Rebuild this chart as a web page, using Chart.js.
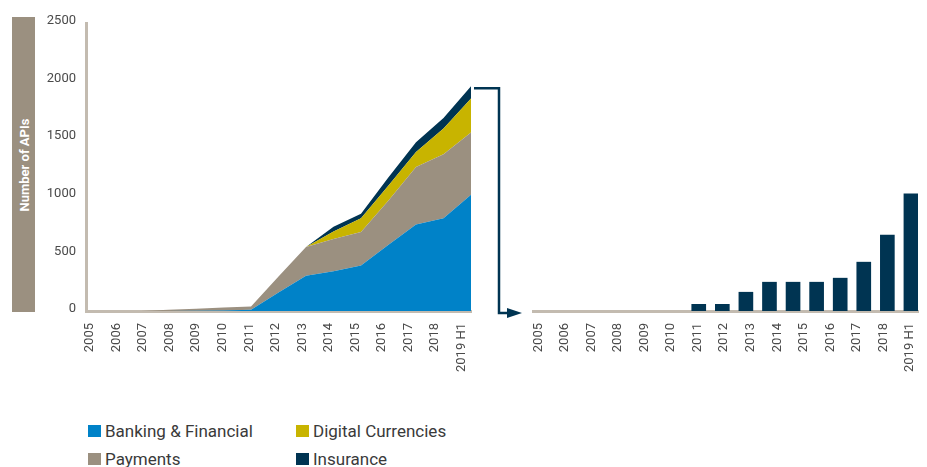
<!DOCTYPE html>
<html>
<head>
<meta charset="utf-8">
<script src="https://cdn.jsdelivr.net/npm/chart.js@4.4.1/dist/chart.umd.min.js"></script>
<style>
  body {
    margin: 0;
    width: 927px;
    height: 467px;
    background: #fff;
    overflow: hidden;
    position: relative;
    font-family: Roboto, sans-serif;
  }
  canvas { position: absolute; top: 0; }
  #leftChart { left: 0; }
  #rightChart { left: 500px; }
  #yTitle {
    position: absolute;
    left: 12px;
    top: 17px;
    width: 23px;
    height: 295px;
    background: #9b9080;
  }
  #yTitle span {
    position: absolute;
    left: 50%;
    top: 50%;
    transform: translate(-50%, -50%) rotate(-90deg);
    color: #fff;
    font-weight: bold;
    font-size: 13px;
    white-space: nowrap;
  }
  .legend {
    position: absolute;
    display: flex;
    align-items: center;
    height: 20px;
    font-size: 17px;
    line-height: 20px;
    color: #3a3a3a;
    white-space: nowrap;
  }
  .legend i {
    display: inline-block;
    width: 13px;
    height: 12px;
    margin-right: 4px;
  }
</style>
</head>
<body>
<div id="yTitle"><span>Number of APIs</span></div>
<canvas id="leftChart" width="530" height="400"></canvas>
<!-- wider than the window so the last rotated label can't shrink the plot -->
<canvas id="rightChart" width="467" height="400"></canvas>

<div class="legend" style="left:88px; top:421px;"><i style="background:#0082c8"></i>Banking &amp; Financial</div>
<div class="legend" style="left:296px; top:421px;"><i style="background:#c8b400"></i>Digital Currencies</div>
<div class="legend" style="left:88px; top:449px;"><i style="background:#9b9080"></i>Payments</div>
<div class="legend" style="left:296px; top:449px;"><i style="background:#003452"></i>Insurance</div>

<script>
// categories
const years = [
  "2005", "2006", "2007", "2008", "2009", "2010", "2011", "2012",
  "2013", "2014", "2015", "2016", "2017", "2018", "2019 H1",
];

// stacked area series (left chart)
const banking = [0, 0, 0, 0, 2, 5, 10, 160, 305, 345, 395, 575, 750, 805, 1010];
const payments = [0, 0, 0, 10, 18, 25, 30, 140, 250, 280, 290, 385, 500, 555, 540];
const digital = [0, 0, 0, 0, 0, 0, 0, 0, 0, 65, 120, 130, 130, 225, 295];
const insurance = [0, 0, 0, 0, 0, 0, 0, 0, 0, 41, 40, 70, 85, 90, 105];

// bars (right chart)
const rightBars = [58, 58, 163, 250, 250, 250, 285, 424, 659, 1017];

// y ticks
const yMax = 2500;
const yStep = 500;

const BLUE = "#0082c8";
const GREY = "#9b9080";
const YELLOW = "#c8b400";
const NAVY = "#003452";
const AXIS = "#c3bbb0";
const TICK = "#4a4a4a";

Chart.defaults.font.family = "Roboto, sans-serif";
Chart.defaults.font.size = 13;
Chart.defaults.color = TICK;

// year labels axis, shared by both charts
function yearAxis(min, max) {
  return {
    type: "linear",
    position: "bottom",
    offset: false,
    min: min,
    max: max,
    afterBuildTicks: (s) => {
      s.ticks = years.map((y, i) => ({ value: i }));
    },
    afterFit: (s) => {
      s.height = 89;
    },
    grid: { display: false, drawTicks: false, offset: false },
    border: { color: AXIS, width: 3 },
    ticks: {
      minRotation: 90,
      maxRotation: 90,
      autoSkip: false,
      padding: 12,
      callback: (v) => years[v],
    },
  };
}

// bracket arrow from the last stack to the bar chart
const bracketPlugin = {
  id: "bracket",
  afterDatasetsDraw(chart) {
    const { ctx, chartArea, scales } = chart;
    const last = years.length - 1;
    const total = banking[last] + payments[last] + digital[last] + insurance[last];
    const yTop = scales.y.getPixelForValue(total) + 2;
    const yBase = scales.y.getPixelForValue(0) + 2;
    const x0 = chartArea.right + 3;
    const xCorner = chartArea.right + 28;
    const xEnd = chartArea.right + 36;

    ctx.save();
    ctx.strokeStyle = NAVY;
    ctx.lineWidth = 2.5;
    ctx.beginPath();
    ctx.moveTo(x0, yTop);
    ctx.lineTo(xCorner, yTop);
    ctx.lineTo(xCorner, yBase);
    ctx.lineTo(xEnd, yBase);
    ctx.stroke();
    ctx.fillStyle = NAVY;
    ctx.beginPath();
    ctx.moveTo(xEnd, yBase - 5);
    ctx.lineTo(xEnd + 15, yBase);
    ctx.lineTo(xEnd, yBase + 5);
    ctx.closePath();
    ctx.fill();
    ctx.restore();
  },
};

function areaSet(label, data, color, fill) {
  return {
    label: label,
    data: data,
    xAxisID: "x",
    backgroundColor: color,
    borderColor: color,
    borderWidth: 0,
    pointRadius: 0,
    tension: 0,
    fill: fill,
  };
}

// Left chart: stacked areas
function createLeftChart() {
  const ctx = document.getElementById("leftChart").getContext("2d");
  new Chart(ctx, {
    type: "line",
    data: {
      labels: years,
      datasets: [
        areaSet("Banking & Financial", banking, BLUE, "origin"),
        areaSet("Payments", payments, GREY, "-1"),
        areaSet("Digital Currencies", digital, YELLOW, "-1"),
        areaSet("Insurance", insurance, NAVY, "-1"),
      ],
    },
    options: {
      responsive: false,
      animation: false,
      layout: { padding: { left: 0, right: 59, top: 23, bottom: 0 } },
      plugins: { legend: { display: false }, tooltip: { enabled: false } },
      scales: {
        x: { type: "category", display: false },
        xl: yearAxis(-0.15, 14.35),
        y: {
          stacked: true,
          min: 0,
          max: yMax,
          afterFit: (s) => {
            s.width = 86;
          },
          grid: { display: false, drawTicks: false },
          border: { color: AXIS, width: 3 },
          ticks: {
            stepSize: yStep,
            padding: 10,
            labelOffset: -2,
            callback: (v) => String(v),
          },
        },
      },
    },
    plugins: [bracketPlugin],
  });
}

// Right chart: bars
function createRightChart() {
  const ctx = document.getElementById("rightChart").getContext("2d");
  new Chart(ctx, {
    type: "bar",
    data: {
      datasets: [
        {
          data: rightBars.map((v, i) => ({ x: i, y: v })),
          xAxisID: "xb",
          backgroundColor: NAVY,
          barThickness: 14,
        },
      ],
    },
    options: {
      responsive: false,
      animation: false,
      layout: { padding: { left: 33, right: 49, top: 23, bottom: 0 } },
      plugins: { legend: { display: false }, tooltip: { enabled: false } },
      scales: {
        xb: {
          type: "linear",
          display: false,
          offset: false,
          grid: { offset: false },
          min: -7.03,
          max: 9.3,
        },
        x: yearAxis(-0.2, 14.3),
        y: { display: false, min: 0, max: yMax },
      },
    },
  });
}

createLeftChart();
createRightChart();
</script>
</body>
</html>
